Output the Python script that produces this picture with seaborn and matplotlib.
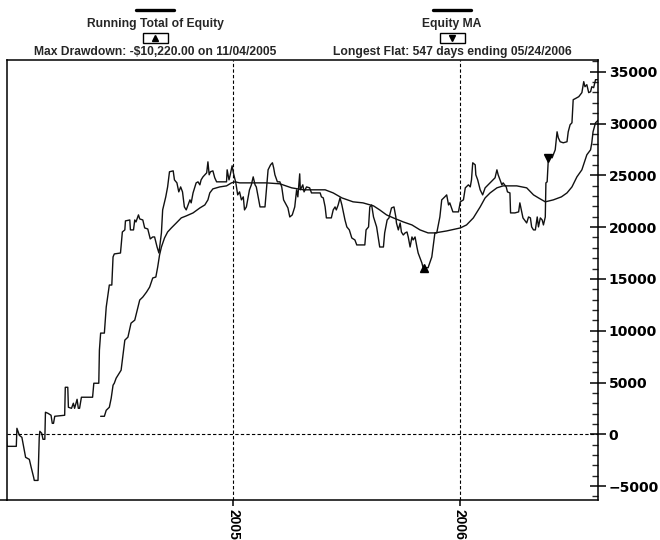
import matplotlib
matplotlib.use("Agg")
import matplotlib.pyplot as plt
import matplotlib.dates as mdates
from matplotlib.lines import Line2D
from matplotlib.patches import Rectangle
from matplotlib.ticker import MultipleLocator
import pandas as pd
import seaborn as sns

# Equity curve (days since 2004-01-01, dollars)
equity_days = [
    0, 1, 16, 17, 21, 25, 31, 37, 40, 44,
    45, 51, 53, 54, 57, 59, 62, 63, 67, 72,
    74, 76, 78, 94, 95, 99, 100, 105, 108, 110,
    114, 116, 118, 121, 139, 141, 149, 150, 152, 158,
    161, 166, 170, 172, 174, 184, 187, 191, 192, 199,
    200, 205, 207, 209, 213, 215, 220, 223, 228, 232,
    236, 239, 243, 246, 250, 252, 257, 260, 263, 269,
    271, 275, 278, 281, 284, 287, 290, 293, 296, 298,
    301, 304, 306, 309, 312, 314, 317, 320, 323, 325,
    327, 329, 333, 336, 339, 355, 356, 359, 361, 364,
    366, 370, 373, 376, 379, 382, 384, 387, 390, 392,
    395, 398, 401, 403, 409, 417, 422, 426, 429, 431,
    433, 437, 441, 444, 447, 454, 457, 461, 465, 468,
    470, 473, 474, 478, 480, 484, 489, 492, 506, 508,
    511, 514, 516, 524, 527, 530, 532, 535, 538, 541,
    546, 549, 553, 557, 562, 565, 578, 580, 584, 586,
    589, 592, 597, 602, 608, 610, 614, 617, 621, 625,
    628, 629, 632, 635, 637, 640, 643, 646, 648, 651,
    654, 656, 659, 662, 664, 667, 670, 672, 675, 680,
    686, 691, 694, 699, 702, 707, 710, 713, 715, 720,
    729, 732, 737, 740, 745, 748, 750, 752, 756, 757,
    760, 764, 768, 772, 780, 785, 788, 791, 793, 796,
    799, 801, 806, 808, 812, 813, 820, 826, 828, 831,
    833, 839, 842, 845, 847, 850, 853, 856, 858, 861,
    864, 866, 869, 870, 872, 874, 877, 880, 885, 888,
    890, 893, 898, 904, 906, 909, 912, 914, 917, 923,
    928, 931, 933, 936, 939, 942, 944, 947, 950, 955,
]
equity_vals = [
    -100, -1160, -1160, 580, -100, -290, -2220, -2420, -3190, -4160,
    -4450, -4450, -290, 290, 100, -480, -480, 2130, 2030, 1840,
    1060, 1060, 1740, 1840, 4540, 4540, 2610, 2510, 3000, 2510,
    3380, 2510, 2510, 3580, 3580, 4930, 4930, 8120, 9770, 9770,
    12280, 14410, 14410, 17120, 17410, 17500, 19530, 19730, 20600, 20690,
    19730, 19730, 20690, 20500, 21180, 20790, 20690, 19920, 19820, 18860,
    19050, 19050, 18080, 17500, 19440, 21660, 22920, 23880, 25340, 25430,
    24560, 24270, 23400, 23880, 23400, 21950, 21660, 22140, 22630, 22340,
    23300, 23880, 24270, 24370, 24080, 24560, 24850, 25050, 25240, 26300,
    25050, 25340, 25430, 24760, 24370, 24370, 25530, 24560, 25050, 25920,
    25240, 24270, 23110, 23400, 22630, 22920, 21660, 21950, 22920, 23600,
    24080, 24850, 24080, 23880, 21950, 21950, 25530, 26010, 26210, 25720,
    25050, 24370, 24370, 23880, 22630, 21850, 20980, 21180, 21950, 23600,
    22920, 25140, 23600, 24080, 23400, 23880, 23790, 23300, 23300, 22920,
    22820, 21950, 20890, 20890, 21660, 21950, 21660, 22140, 22820, 22140,
    20690, 20020, 19730, 18950, 18760, 18280, 18280, 19730, 20020, 21950,
    22140, 20980, 20020, 18080, 18080, 19440, 20690, 20890, 21850, 21950,
    20980, 20400, 19730, 20400, 19530, 19240, 19440, 19530, 19050, 18080,
    19050, 18760, 19050, 18080, 17500, 17020, 16540, 16080, 16080, 16080,
    17120, 19440, 19440, 20980, 22630, 22920, 23110, 22140, 22340, 21470,
    21470, 22440, 22630, 23790, 24080, 23880, 24560, 26210, 26010, 25050,
    24560, 23600, 23110, 23790, 24270, 24560, 24760, 25530, 25050, 24560,
    24080, 24270, 23880, 23400, 23300, 21370, 21370, 21470, 22340, 21470,
    20890, 20400, 20980, 20890, 20020, 19730, 19730, 20980, 20020, 20890,
    20690, 20210, 20980, 24270, 24370, 26690, 26790, 26690, 27460, 29200,
    28620, 28240, 28140, 28240, 29200, 29880, 30070, 32300, 32390, 32590,
    32980, 34040, 33550, 33750, 32980, 33070, 33550, 33460, 34230, 34230,
]

# Equity moving average
ma_days = [
    152, 158, 161, 166, 169, 172, 174, 177, 180, 185,
    191, 196, 201, 207, 215, 220, 226, 231, 236, 241,
    244, 247, 250, 255, 260, 266, 274, 282, 290, 301,
    312, 320, 325, 328, 333, 344, 355, 363, 369, 376,
    398, 419, 441, 460, 479, 495, 514, 527, 541, 559,
    575, 592, 602, 613, 624, 640, 654, 667, 680, 691,
    710, 732, 742, 753, 764, 772, 780, 791, 801, 823,
    839, 850, 858, 869, 882, 895, 904, 912, 920, 928,
    936, 942, 944, 946, 950, 955,
]
ma_vals = [
    1740, 1740, 2320, 2610, 3480, 4740, 4930, 5420, 5710, 6190,
    9090, 9380, 10730, 11020, 12960, 13250, 13730, 14210, 15090, 15180,
    16150, 17310, 18080, 18950, 19530, 19920, 20400, 20890, 21080, 21370,
    21850, 22140, 22630, 23300, 23690, 23880, 23980, 24270, 24370, 24270,
    24270, 24270, 24180, 23790, 23600, 23600, 23600, 23300, 22820, 22440,
    22340, 22050, 21660, 21180, 20890, 20500, 20210, 19730, 19440, 19440,
    19630, 19920, 20210, 20890, 21950, 22820, 23300, 23790, 23980, 23980,
    23790, 23110, 22820, 22440, 22630, 22920, 23300, 23880, 24850, 25530,
    26980, 27460, 28140, 29200, 30070, 30360,
]

dd_date, dd_val = "2005-11-04", 16080      # max drawdown point
flat_date, flat_val = "2006-05-24", 26690  # end of longest flat

legend_titles = ["Running Total of Equity", "Equity MA"]
legend_notes = ["Max Drawdown: -$10,220.00 on 11/04/2005",
                "Longest Flat: 547 days ending 05/24/2006"]

start = pd.Timestamp("2004-01-01")
eq = pd.DataFrame({"date": start + pd.to_timedelta(equity_days, unit="D"),
                   "equity": equity_vals})
ma = pd.DataFrame({"date": start + pd.to_timedelta(ma_days, unit="D"),
                   "ma": ma_vals})

sns.set_style("white")
plt.rcParams["font.family"] = ["DejaVu Sans"]

W, H = 660, 540
fig = plt.figure(figsize=(W / 100, H / 100), dpi=100)
ax = fig.add_axes([7 / W, 1 - 500 / H, 591 / W, 440 / H])

ink = "#111111"
sns.lineplot(data=eq, x="date", y="equity", estimator=None, sort=False,
             color=ink, lw=1.0, ax=ax)
sns.lineplot(data=ma, x="date", y="ma", estimator=None, sort=False,
             color=ink, lw=1.0, ax=ax)
ax.plot(pd.Timestamp(dd_date), dd_val, marker="^", ms=6, color="black")
ax.plot(pd.Timestamp(flat_date), flat_val, marker="v", ms=6, color="black")

ax.set_xlim(pd.Timestamp("2004-01-02"), pd.Timestamp("2006-08-12"))
ax.set_ylim(-6340, 36130)
ax.set_xlabel("")
ax.set_ylabel("")

# axes / ticks
for sp in ax.spines.values():
    sp.set_visible(True)
    sp.set_color("black")
    sp.set_linewidth(1.1)
ax.yaxis.tick_right()
ax.yaxis.set_major_locator(MultipleLocator(5000))
ax.yaxis.set_minor_locator(MultipleLocator(1000))
ax.tick_params(axis="y", which="major", direction="inout", length=11.5,
               width=1.1, pad=2, labelsize=10, colors="black")
ax.tick_params(axis="y", which="minor", direction="in", length=4.3,
               width=1.0, right=True, left=False)
ax.xaxis.set_major_locator(mdates.YearLocator())
ax.xaxis.set_major_formatter(mdates.DateFormatter("%Y"))
ax.tick_params(axis="x", which="major", direction="out", length=4.3,
               width=1.1, pad=2, labelsize=10, colors="black", bottom=True)
for lab in ax.get_xticklabels():
    lab.set_rotation(270)
    lab.set_fontweight("bold")
    lab.set_family(["Liberation Sans", "DejaVu Sans"])
for lab in ax.get_yticklabels():
    lab.set_fontweight("bold")

ax.grid(axis="x", which="major", color="black", lw=0.8, ls=(0, (3, 2)))
ax.axhline(0, color="black", lw=0.8, ls=(0, (3, 2)))

# bottom spine runs to the left edge of the figure
fig.add_artist(Line2D([0, 7 / W], [1 - 500 / H] * 2, color="black", lw=1.1,
                      transform=fig.transFigure))

# header legend
head_font = ["Liberation Sans", "DejaVu Sans"]
for cx, title, note, mk in zip([155, 452], legend_titles, legend_notes,
                               ["^", "v"]):
    fx = cx / W
    fig.add_artist(Line2D([(cx - 19) / W, (cx + 19) / W], [1 - 10 / H] * 2,
                          color="black", lw=2.4, transform=fig.transFigure))
    fig.text(fx, 1 - 27 / H, title, ha="center", va="baseline",
             fontsize=8.7, fontweight="bold", family=head_font)
    fig.add_artist(Rectangle(((cx - 12.5) / W, 1 - 43 / H), 25 / W, 10 / H,
                             fill=False, lw=1.0, ec="black",
                             transform=fig.transFigure))
    fig.add_artist(Line2D([fx], [1 - 38 / H], marker=mk, ms=5, color="black",
                          lw=0, transform=fig.transFigure))
    fig.text(fx, 1 - 55 / H, note, ha="center", va="baseline",
             fontsize=8.7, fontweight="bold", family=head_font)

fig.savefig("out.png", dpi=100)
